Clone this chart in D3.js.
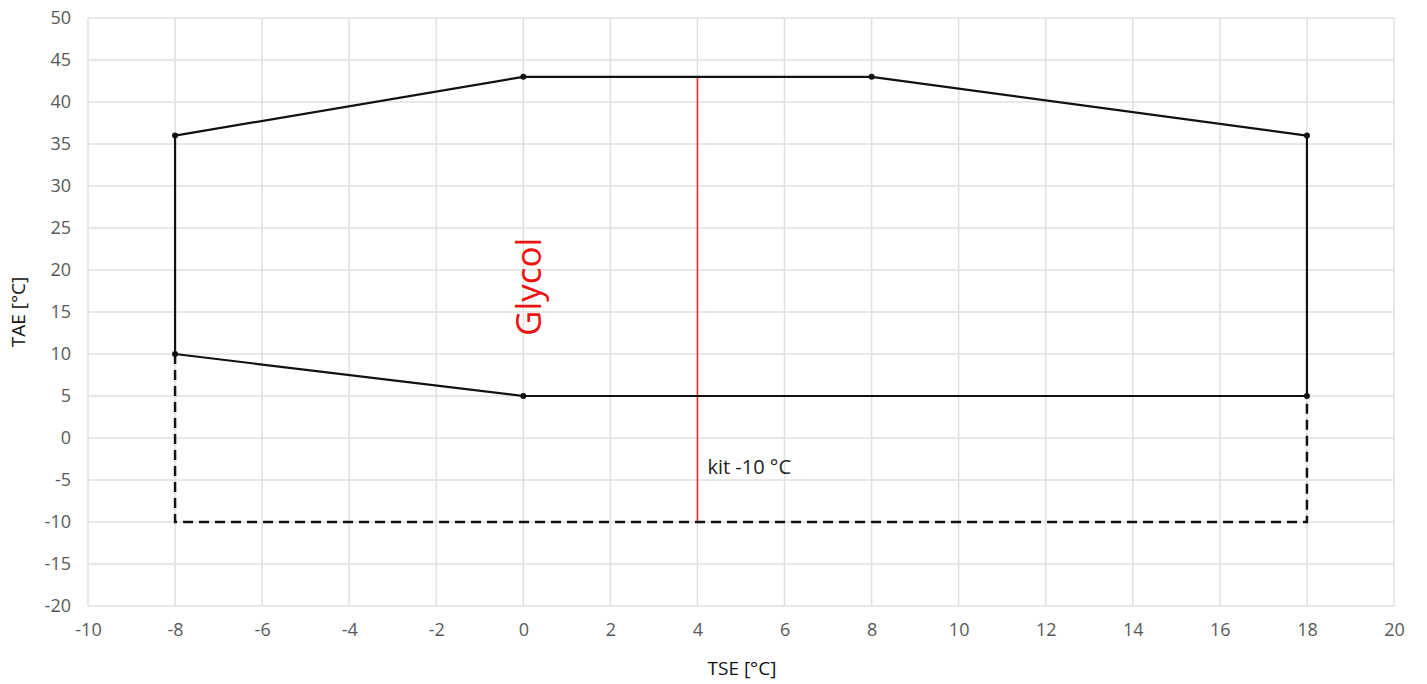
<!DOCTYPE html>
<html><head><meta charset="utf-8">
<script src="https://cdn.jsdelivr.net/npm/d3@7"></script>
<style>body{margin:0;background:#fff;} text{font-family:"Open Sans","Liberation Sans",sans-serif;}</style>
</head><body>
<svg id="c" width="1427" height="684"></svg>
<script>
const xTicks = [-10,-8,-6,-4,-2,0,2,4,6,8,10,12,14,16,18,20];
const yTicks = [-20,-15,-10,-5,0,5,10,15,20,25,30,35,40,45,50];
const envelopeX = [-8,-8,0,8,18,18,0,-8];
const envelopeY = [10,36,43,43,36,5,5,10];
const kitX = [-8,-8,18,18];
const kitY = [10,-10,-10,5];
const markerX = [-8,-8,0,8,18,18,0];
const markerY = [10,36,43,43,36,5,5];
const glycolX = [4,4];
const glycolY = [43,-10];

const svg = d3.select('#c');
const L=88, R=1394, T=18, B=606;
const x = d3.scaleLinear().domain([-10,20]).range([L,R]);
const y = d3.scaleLinear().domain([-20,50]).range([B,T]);

const g = svg.append('g');
g.selectAll('.gx').data(xTicks).enter().append('line')
 .attr('x1',d=>x(d)).attr('x2',d=>x(d)).attr('y1',T).attr('y2',B)
 .attr('stroke','#e0e0e0').attr('stroke-width',1.5);
g.selectAll('.gy').data(yTicks).enter().append('line')
 .attr('x1',L).attr('x2',R).attr('y1',d=>y(d)).attr('y2',d=>y(d))
 .attr('stroke','#e0e0e0').attr('stroke-width',1.5);

const xAxis = d3.axisBottom(x).tickValues(xTicks).tickSize(0).tickPadding(17).tickFormat(d=>String(d));
const ax = svg.append('g').attr('transform',`translate(0,${B})`).call(xAxis);
ax.select('.domain').remove();
ax.selectAll('text').attr('fill','#595959').style('font-size','18px');
const yAxis = d3.axisLeft(y).tickValues(yTicks).tickSize(0).tickPadding(17).tickFormat(d=>String(d));
const ay = svg.append('g').attr('transform',`translate(${L},0)`).call(yAxis);
ay.select('.domain').remove();
ay.selectAll('text').attr('fill','#595959').style('font-size','18px');

const line = d3.line().x(d=>x(d[0])).y(d=>y(d[1]));
svg.append('path').datum(glycolX.map((v,i)=>[v,glycolY[i]])).attr('d',line)
 .attr('fill','none').attr('stroke','#ff2020').attr('stroke-width',1.5);
svg.append('path').datum(kitX.map((v,i)=>[v,kitY[i]])).attr('d',line)
 .attr('fill','none').attr('stroke','#111').attr('stroke-width',2.5).attr('stroke-dasharray','10,6');
svg.append('path').datum(envelopeX.map((v,i)=>[v,envelopeY[i]])).attr('d',line)
 .attr('fill','none').attr('stroke','#111').attr('stroke-width',2.2).attr('stroke-linejoin','round');
svg.selectAll('.m').data(markerX.map((v,i)=>[v,markerY[i]])).enter().append('circle')
 .attr('cx',d=>x(d[0])).attr('cy',d=>y(d[1])).attr('r',3).attr('fill','#111');

svg.append('text').attr('transform',`translate(${x(0)+18},${y(18)}) rotate(-90)`)
 .attr('text-anchor','middle').attr('fill','#ee1111').style('font-size','35px').text('Glycol');
svg.append('text').attr('x',x(4)+10).attr('y',y(-3.5)+7)
 .attr('fill','#222').style('font-size','20px').text('kit -10 °C');

svg.append('text').attr('x',742).attr('y',675).attr('text-anchor','middle')
 .attr('fill','#111').style('font-size','19px').text('TSE [°C]');
svg.append('text').attr('transform',`translate(25,${312}) rotate(-90)`).attr('text-anchor','middle')
 .attr('fill','#111').style('font-size','19px').text('TAE [°C]');
</script>
</body></html>
